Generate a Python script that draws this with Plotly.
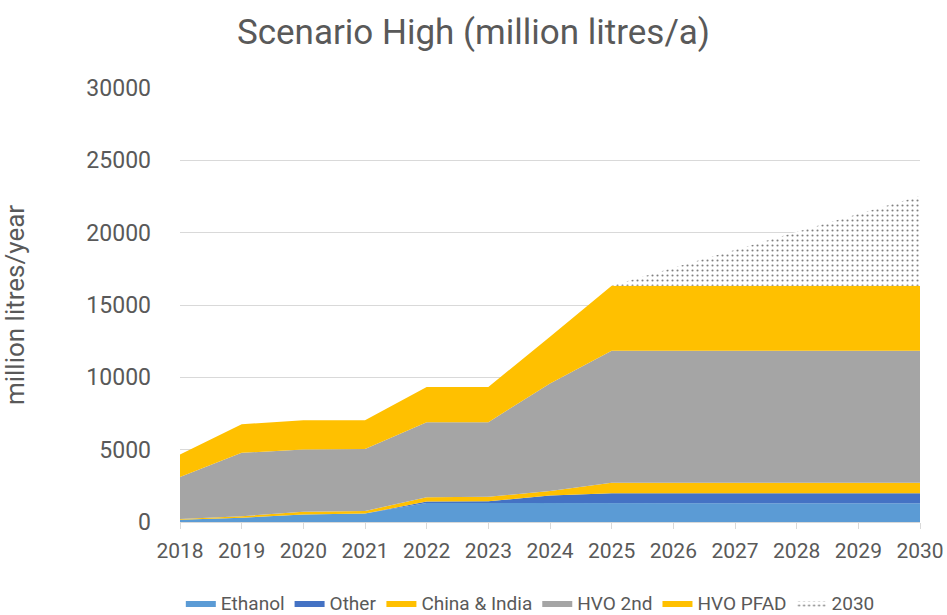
import plotly.graph_objects as go

years = ["2018", "2019", "2020", "2021", "2022", "2023", "2024",
         "2025", "2026", "2027", "2028", "2029", "2030"]

ethanol = [150, 300, 520, 580, 1310, 1300, 1310, 1300, 1300, 1300, 1300, 1300, 1300]
other = [0, 0, 0, 0, 100, 130, 530, 690, 690, 690, 690, 690, 690]
china_india = [50, 100, 180, 180, 300, 310, 310, 730, 730, 730, 730, 730, 730]
hvo_2nd = [2910, 4380, 4310, 4290, 5190, 5160, 7430, 9110, 9110, 9110, 9110, 9110, 9110]
hvo_pfad = [1550, 1980, 2030, 1990, 2440, 2440, 3220, 4500, 4500, 4500, 4500, 4500, 4500]
extra_2030 = [0, 0, 0, 0, 0, 0, 0, 0, 1240, 2480, 3720, 4960, 6200]

series = [
    ("Ethanol", ethanol, "#5B9BD5"),
    ("Other", other, "#4472C4"),
    ("China & India", china_india, "#FFC000"),
    ("HVO 2nd", hvo_2nd, "#A5A5A5"),
    ("HVO PFAD", hvo_pfad, "#FFC000"),
]

FONT = "Roboto, 'Open Sans', sans-serif"
GREY = "#595959"

fig = go.Figure()
for name, vals, col in series:
    fig.add_trace(go.Scatter(
        x=years, y=vals, name=name, mode="lines", stackgroup="one",
        line=dict(width=0, color=col), fillcolor=col,
    ))
fig.add_trace(go.Scatter(
    x=years, y=extra_2030, name="2030", mode="lines", stackgroup="one",
    line=dict(width=0, color="#000000"), fillcolor="#ffffff",
    fillpattern=dict(shape=".", fgcolor="#000000", bgcolor="#ffffff",
                     size=5, solidity=0.14),
))

fig.update_layout(
    width=947, height=615,
    margin=dict(l=180, r=27, t=88, b=93, autoexpand=False),
    paper_bgcolor="white", plot_bgcolor="white",
    font=dict(family=FONT, color=GREY, size=20),
    title=dict(text="Scenario High (million litres/a)", x=0.5, xref="container",
               xanchor="center",
               y=1 - 32 / 615, yref="container", yanchor="middle",
               font=dict(family=FONT, size=35, color=GREY)),
    showlegend=True,
    legend=dict(orientation="h", x=0.56, xref="container", xanchor="center",
                y=-0.187, yref="paper", yanchor="middle",
                font=dict(size=19, color=GREY), traceorder="normal",
                itemwidth=30, tracegroupgap=0),
    xaxis=dict(type="category", range=[0, 12], showgrid=False,
               showline=True, linecolor="#D9D9D9", linewidth=1,
               ticks="outside", ticklen=6, tickcolor="#D9D9D9",
               ticklabelstandoff=4,
               tickfont=dict(size=21, color=GREY)),
    yaxis=dict(range=[0, 30000], dtick=5000, showgrid=True,
               gridcolor="#D9D9D9", gridwidth=1, zeroline=False,
               showline=False, tickformat="d", ticks="",
               ticklabelstandoff=28,
               tickfont=dict(size=23, color=GREY),
               title=dict(text="million litres/year", standoff=79,
                          font=dict(size=26, color=GREY))),
)

fig.write_html("out.html",
               config={"displayModeBar": False},
               post_script="document.body.style.margin='0';document.body.style.padding='0';")
